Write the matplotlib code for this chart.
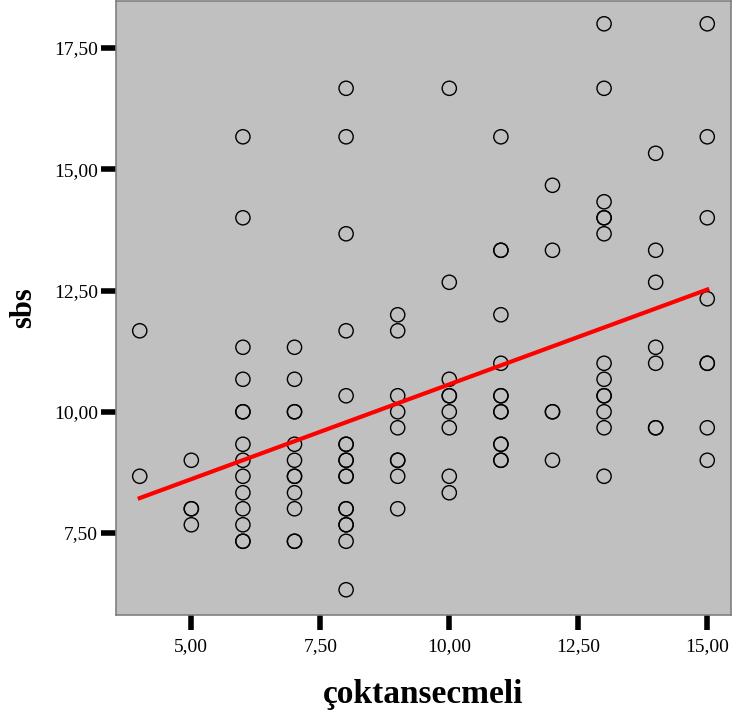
import numpy as np
import matplotlib
matplotlib.use("Agg")
from matplotlib import pyplot as plt
from matplotlib.ticker import FuncFormatter

# values (repeated entries = overlapping circles)
x_4 = [11.67, 8.67]
x_5 = [9.0, 8.0, 8.0, 7.67]
x_6 = [15.67, 14.0, 11.33, 10.67, 10.0, 10.0, 9.33, 9.0, 8.67, 8.33, 8.0, 7.67, 7.33, 7.33]
x_7 = [11.33, 10.67, 10.0, 10.0, 9.33, 9.0, 8.67, 8.67, 8.33, 8.0, 7.33, 7.33]
x_8 = [16.67, 15.67, 13.67, 11.67, 10.33, 9.33, 9.33, 9.0, 9.0, 8.67, 8.67, 8.0, 8.0,
       7.67, 7.67, 7.33, 6.33]
x_9 = [12.0, 11.67, 10.33, 10.0, 9.67, 9.0, 9.0, 8.67, 8.0]
x_10 = [16.67, 12.67, 10.67, 10.33, 10.33, 10.0, 9.67, 8.67, 8.33]
x_11 = [15.67, 13.33, 13.33, 12.0, 11.0, 10.33, 10.33, 10.0, 10.0, 9.33, 9.33, 9.0, 9.0]
x_12 = [14.67, 13.33, 10.0, 10.0, 9.0]
x_13 = [18.0, 16.67, 14.33, 14.0, 14.0, 13.67, 11.0, 10.67, 10.33, 10.33, 10.0, 9.67, 8.67]
x_14 = [15.33, 13.33, 12.67, 11.33, 11.0, 9.67, 9.67]
x_15 = [18.0, 15.67, 14.0, 12.33, 11.0, 11.0, 9.67, 9.0]

columns = {4: x_4, 5: x_5, 6: x_6, 7: x_7, 8: x_8, 9: x_9, 10: x_10,
           11: x_11, 12: x_12, 13: x_13, 14: x_14, 15: x_15}

# fit line as drawn in the reference (end points)
fit_x = [4.0, 15.0]
fit_y = [8.22, 12.52]

x_ticks = [5.0, 7.5, 10.0, 12.5, 15.0]
y_ticks = [7.5, 10.0, 12.5, 15.0, 17.5]

coktansecmeli = np.concatenate([[k] * len(v) for k, v in columns.items()]).astype(float)
sbs = np.concatenate([v for v in columns.values()])

plt.rcParams['font.family'] = ['Liberation Serif', 'DejaVu Serif']

fig = plt.figure(figsize=(7.36, 7.15), dpi=100)
ax = fig.add_axes([0.1576, 0.1399, 0.8356, 0.8587])
ax.set_facecolor('#c0c0c0')

ax.scatter(coktansecmeli, sbs, s=105, facecolors='none', edgecolors='black', linewidths=1.0, zorder=3)
ax.plot(fit_x, fit_y, color='red', linewidth=3, zorder=4)

ax.set_xlim(3.54, 15.46)
ax.set_ylim(5.81, 18.47)
ax.set_xticks(x_ticks)
ax.set_yticks(y_ticks)
comma = FuncFormatter(lambda v, _: f"{v:.2f}".replace('.', ','))
ax.xaxis.set_major_formatter(comma)
ax.yaxis.set_major_formatter(comma)
ax.tick_params(direction='out', length=11, width=4, labelsize=14, color='black')
ax.tick_params(axis='x', pad=6)
ax.tick_params(axis='y', pad=2)

for s in ax.spines.values():
    s.set_color('#808080')
    s.set_linewidth(1.2)

ax.set_xlabel('çoktansecmeli', fontsize=24, fontweight='bold', va='baseline')
ax.xaxis.set_label_coords(0.5, -0.1433)
ax.set_ylabel('sbs', fontsize=22, fontweight='bold', va='center')
ax.yaxis.set_label_coords(-0.151, 0.5)

fig.savefig('out.png', dpi=100)
